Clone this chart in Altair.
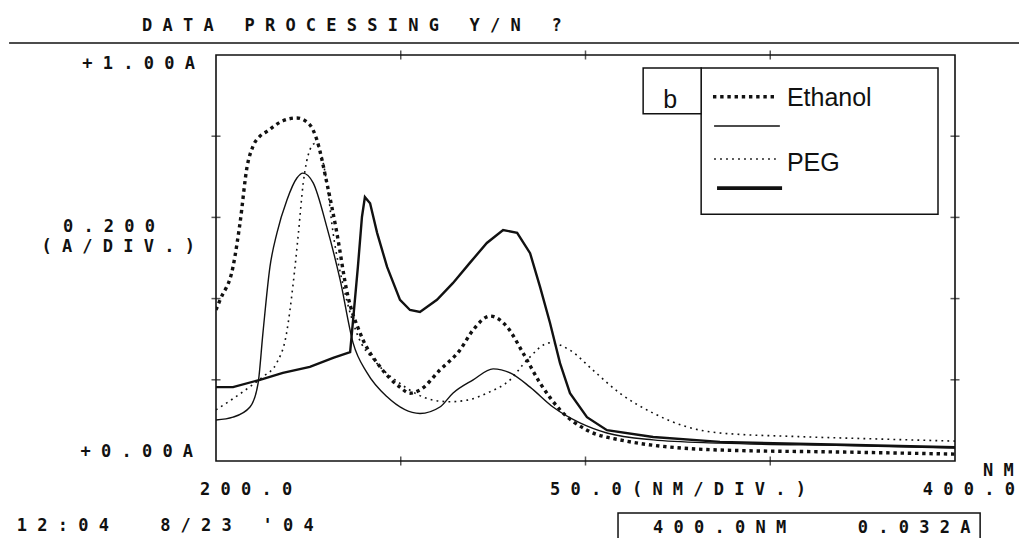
import altair as alt
import pandas as pd

# ---------------- data (wavelength nm, absorbance A) ----------------
eth_nm = [200, 201.1, 204.6, 206.5, 208.4, 210.0, 211.9, 213.8, 218.1, 221.9, 225.4, 227.3, 230.0, 232.7,
          235.5, 239.0, 244.4, 249.8, 252.5, 255.2, 260.6, 266.0, 269.6, 274.2, 278.8, 283.1, 287.7,
          293.1, 300.4, 309.3, 336.4, 370, 400]
eth_a = [0.372, 0.397, 0.478, 0.586, 0.724, 0.775, 0.800, 0.812, 0.838, 0.845, 0.828, 0.791, 0.685, 0.562,
         0.414, 0.315, 0.232, 0.182, 0.167, 0.175, 0.224, 0.273, 0.323, 0.357, 0.330, 0.266, 0.192,
         0.126, 0.076, 0.052, 0.027, 0.022, 0.017]

sol_nm = [200, 204.6, 209.2, 211.4, 212.7, 214.6, 216.5, 219.2, 221.9, 223.5, 226.3, 230.0, 233.6,
          237.1, 240.9, 246.3, 255.2, 260.6, 264.1, 269.6, 275.0, 279.6, 285.0, 291.2, 298.5, 305.8,
          318.3, 336.4, 370, 400]
sol_a = [0.101, 0.108, 0.133, 0.192, 0.315, 0.478, 0.562, 0.643, 0.697, 0.709, 0.685, 0.576, 0.446,
         0.291, 0.217, 0.158, 0.117, 0.133, 0.167, 0.200, 0.227, 0.217, 0.182, 0.133, 0.094, 0.069,
         0.052, 0.044, 0.038, 0.032]

peg_nm = [200, 204.7, 209.2, 212.8, 216.4, 219.1, 220.9, 222.3, 223.6, 225.4, 226.8, 228.1, 230.0,
          231.7, 234.5, 238.1, 243.5, 249.8, 258.8, 263.3, 268.0, 273.3, 279.6, 284.2, 290.4, 295.8,
          302.0, 309.3, 318.3, 327.5, 336.4, 358.0, 380.0, 400]
peg_a = [0.126, 0.154, 0.183, 0.208, 0.241, 0.315, 0.438, 0.561, 0.684, 0.766, 0.782, 0.766, 0.684,
         0.561, 0.429, 0.315, 0.241, 0.191, 0.150, 0.146, 0.150, 0.167, 0.200, 0.249, 0.291, 0.273,
         0.224, 0.167, 0.118, 0.084, 0.069, 0.060, 0.054, 0.049]

scan_nm = [200, 204.6, 211.9, 218.1, 225.4, 231.7, 236.3, 237.1, 238.4, 239.5, 240.3, 241.7, 243.6,
           246.3, 249.8, 252.5, 255.2, 259.8, 264.1, 268.7, 273.3, 277.7, 281.5, 285.0, 287.7, 290.4,
           293.1, 295.8, 300.4, 305.8, 318.3, 336.4, 370, 400]
scan_a = [0.182, 0.182, 0.200, 0.217, 0.232, 0.254, 0.268, 0.347, 0.478, 0.601, 0.650, 0.635, 0.562,
          0.478, 0.397, 0.372, 0.367, 0.397, 0.438, 0.488, 0.537, 0.569, 0.562, 0.512, 0.429, 0.340,
          0.241, 0.167, 0.108, 0.076, 0.059, 0.047, 0.040, 0.034]

x_ticks = [250, 300, 350]
y_ticks = [0.2, 0.4, 0.6, 0.8]

# printer annotations (text, nm, A)
left_texts = ["DATA PROCESSING Y/N ?", "200.0", "50.0(NM/DIV.)", "400.0", "NM",
              "12:04  8/23 '04", "400.0NM", "0.032A"]
left_nm = [180.0, 195.7, 290.4, 391.3, 407.6, 146.1, 318.3, 373.7]
left_a = [1.071, -0.071, -0.071, -0.071, -0.025, -0.159, -0.165, -0.165]
right_texts = ["+1.00A", "+0.00A", "0.200", "(A/DIV.)"]
right_nm = [194.3, 193.8, 183.5, 194.3]
right_a = [0.978, 0.021, 0.576, 0.527]

# legend
leg_y = [0.897, 0.825, 0.744, 0.672]
leg_x0 = [334.5, 334.8, 334.8, 335.6]
leg_x1 = [351.8, 352.6, 351.5, 353.2]
leg_labels = ["Ethanol", "PEG"]
leg_label_a = [0.894, 0.734]

X = alt.Scale(domain=[200, 400], nice=False)
Y = alt.Scale(domain=[0, 1], nice=False, zero=False)
INK = "#111111"
NB = "\u00a0"


def xy():
    return dict(x=alt.X("nm:Q", scale=X, axis=None), y=alt.Y("A:Q", scale=Y, axis=None))


def spaced(s):
    # printer look: one blank cell between characters (non-breaking so SVG keeps them)
    return NB.join(NB if c == " " else c for c in s)


def series(nm, a):
    return pd.DataFrame({"nm": nm, "A": a})


layers = []

# curves
layers.append(alt.Chart(series(peg_nm, peg_a)).mark_line(
    color=INK, strokeWidth=1.6, strokeDash=[1.8, 4.2], interpolate="monotone", clip=True).encode(**xy()))
layers.append(alt.Chart(series(sol_nm, sol_a)).mark_line(
    color=INK, strokeWidth=1.4, interpolate="monotone", clip=True).encode(**xy()))
layers.append(alt.Chart(series(scan_nm, scan_a)).mark_line(
    color=INK, strokeWidth=2.4, interpolate="linear", clip=True).encode(**xy()))
layers.append(alt.Chart(series(eth_nm, eth_a)).mark_line(
    color=INK, strokeWidth=3.4, strokeDash=[3.4, 3.8], interpolate="monotone", clip=True).encode(**xy()))

# ticks on frame
xt = pd.DataFrame({"nm": x_ticks * 2, "A": [0] * 3 + [1] * 3})
layers.append(alt.Chart(xt).mark_tick(orient="vertical", size=9, thickness=1.5, color=INK).encode(**xy()))
yt = pd.DataFrame({"nm": [200] * 4 + [400] * 4, "A": y_ticks * 2})
layers.append(alt.Chart(yt).mark_tick(orient="horizontal", size=9, thickness=1.5, color=INK).encode(**xy()))

# separator line under the title
sep = pd.DataFrame({"nm": [144.0], "nm2": [420.0], "A": [1.0296]})
layers.append(alt.Chart(sep).mark_rule(color=INK, strokeWidth=1.6).encode(
    x=alt.X("nm:Q", scale=X, axis=None), x2="nm2", y=alt.Y("A:Q", scale=Y, axis=None)))

# readout box at bottom
rb = pd.DataFrame({"nm": [308.8], "nm2": [406.8], "A": [-0.128], "A2": [-0.25]})
layers.append(alt.Chart(rb).mark_rect(fill=None, stroke=INK, strokeWidth=1.5).encode(
    x=alt.X("nm:Q", scale=X, axis=None), x2="nm2", y=alt.Y("A:Q", scale=Y, axis=None), y2="A2"))

# printer texts
FONT = "DejaVu Sans Mono"
lt = pd.DataFrame({"nm": left_nm, "A": left_a, "t": [spaced(s) for s in left_texts]})
layers.append(alt.Chart(lt).mark_text(font=FONT, fontSize=17, fontWeight="bold", align="left",
                                      baseline="middle", color=INK).encode(**xy(), text="t:N"))
rt = pd.DataFrame({"nm": right_nm, "A": right_a, "t": [spaced(s) for s in right_texts]})
layers.append(alt.Chart(rt).mark_text(font=FONT, fontSize=17, fontWeight="bold", align="right",
                                      baseline="middle", color=INK).encode(**xy(), text="t:N"))

# legend boxes
boxes = pd.DataFrame({"nm": [331.3, 315.6], "nm2": [395.4, 331.3], "A": [0.968, 0.968], "A2": [0.608, 0.855]})
layers.append(alt.Chart(boxes).mark_rect(fill="white", stroke=INK, strokeWidth=1.5).encode(
    x=alt.X("nm:Q", scale=X, axis=None), x2="nm2", y=alt.Y("A:Q", scale=Y, axis=None), y2="A2"))

styles = [dict(strokeWidth=3.4, strokeDash=[3.4, 3.8]),
          dict(strokeWidth=1.4),
          dict(strokeWidth=1.6, strokeDash=[1.8, 4.2]),
          dict(strokeWidth=3.6)]
for i, st in enumerate(styles):
    d = pd.DataFrame({"nm": [leg_x0[i], leg_x1[i]], "A": [leg_y[i], leg_y[i]]})
    layers.append(alt.Chart(d).mark_line(color=INK, **st).encode(**xy()))

ll = pd.DataFrame({"nm": [354.5, 354.5], "A": leg_label_a, "t": leg_labels})
layers.append(alt.Chart(ll).mark_text(font="Liberation Sans", fontSize=25, align="left", baseline="middle",
                                      color=INK).encode(**xy(), text="t:N"))
hb = pd.DataFrame({"nm": [322.9], "A": [0.89], "t": ["b"]})
layers.append(alt.Chart(hb).mark_text(font="Liberation Sans", fontSize=25, align="center", baseline="middle",
                                      color=INK).encode(**xy(), text="t:N"))

chart = alt.layer(*layers).properties(
    width=739, height=406,
    autosize=alt.AutoSizeParams(type="none"),
    padding={"left": 216, "top": 55, "right": 64, "bottom": 77},
    background="white",
).configure_view(stroke=INK, strokeWidth=1.6)

chart.save("out.html", embed_options={"renderer": "svg", "actions": False})
